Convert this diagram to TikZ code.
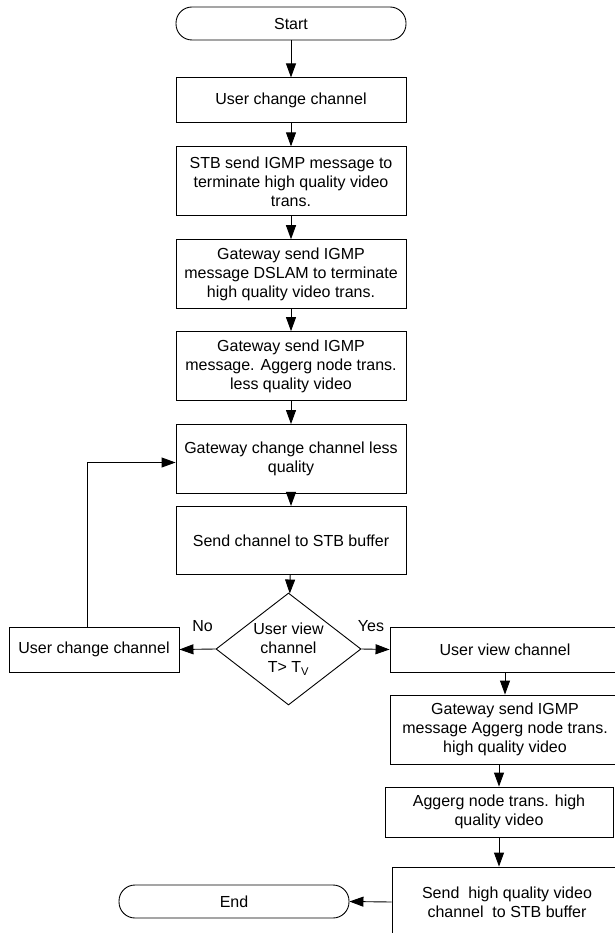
\documentclass[tikz,border=0pt]{standalone}
\usepackage{fontspec}
\setmainfont{Liberation Sans}
\usetikzlibrary{positioning, shapes.geometric, arrows.meta}

\begin{document}
\begin{tikzpicture}[x=1pt, y=-1pt, line width=0.9pt,
  % Node Styles
  termnode/.style={rectangle, rounded corners=16pt, draw, minimum width=230pt, minimum height=33pt, align=center},
  boxnode/.style={rectangle, draw, minimum width=230pt, minimum height=69pt, align=center, inner sep=2pt},
  smallbox/.style={boxnode, minimum height=45pt},
  decnode/.style={diamond, draw, aspect=1.3, inner sep=0pt, minimum width=145pt, minimum height=112pt, align=center},
  % Arrow Styles
  solidarrow/.style={-{Triangle[length=14pt, width=10pt]}},
  textlabel/.style={align=center, inner sep=1pt}
]
\tikzset{font=\fontsize{16pt}{19pt}\selectfont} % Arial-like text size
\useasboundingbox (0,0) rectangle (614,933);

% Nodes
\node[termnode] (Start) at (291,23.5) {Start};
\node[smallbox, below=37pt of Start] (UserChange) {User change channel};
\node[boxnode, below=23pt of UserChange] (STBSend) {STB send IGMP message to\\terminate high quality video\\trans.};
\node[boxnode, below=23pt of STBSend] (GWTerminate) {Gateway send IGMP\\message DSLAM to terminate\\high quality video trans.};
\node[boxnode, below=22pt of GWTerminate] (GWLess) {Gateway send IGMP\\message. Aggerg node trans.\\less quality video};
\node[boxnode, below=23pt of GWLess] (GWChange) {Gateway change channel less\\quality};
\node[boxnode, below=12pt of GWChange, minimum height=68pt] (SendBuffer) {Send channel to STB buffer};
\node[decnode] (UserView) at (288.5,649) {User view\\channel\\T> T\textsubscript{V}};
\node[smallbox, minimum width=170pt] (UserChangeNo) at (94,649.5) {User change channel};
\node[smallbox] (UserViewYes) at (505,649.5) {User view channel};
\node[boxnode] (GWHigh) at (505,729.5) {Gateway send IGMP\\message Aggerg node trans.\\high quality video};
\node[boxnode, minimum width=228pt, minimum height=50pt] (AggHigh) at (499,812) {Aggerg node trans. high\\quality video};
\node[boxnode, minimum height=70pt] (SendHigh) at (507,902) {Send \ high quality video\\channel \ to STB buffer};
\node[termnode] (End) at (234,901.5) {End};

% Arrows
\draw[solidarrow] (Start) -- (UserChange);
\draw[solidarrow] (UserChange) -- (STBSend);
\draw[solidarrow] (STBSend) -- (GWTerminate);
\draw[solidarrow] (GWTerminate) -- (GWLess);
\draw[solidarrow] (GWLess) -- (GWChange);
\draw[solidarrow] (GWChange) -- (SendBuffer);
\draw[solidarrow] (SendBuffer) -- (UserView);
\draw[solidarrow] (UserView.west) -- node[midway, above, textlabel, xshift=5pt, yshift=16pt] {No} (UserChangeNo.east);
\draw[solidarrow] (UserView.east) -- node[midway, above, textlabel, xshift=-4.5pt, yshift=16pt] {Yes} (UserViewYes.west);
\draw[solidarrow] ([xshift=-7pt]UserChangeNo.north) |- ([yshift=-3.5pt]GWChange.west); % loop back to gateway
\draw[solidarrow] (UserViewYes) -- (GWHigh);
\draw[solidarrow] (AggHigh.north |- GWHigh.south) -- (AggHigh.north);
\draw[solidarrow] (AggHigh.south) -- (AggHigh.south |- SendHigh.north);
\draw[solidarrow] (SendHigh.west) -- (End.east);

\end{tikzpicture}
\end{document}
